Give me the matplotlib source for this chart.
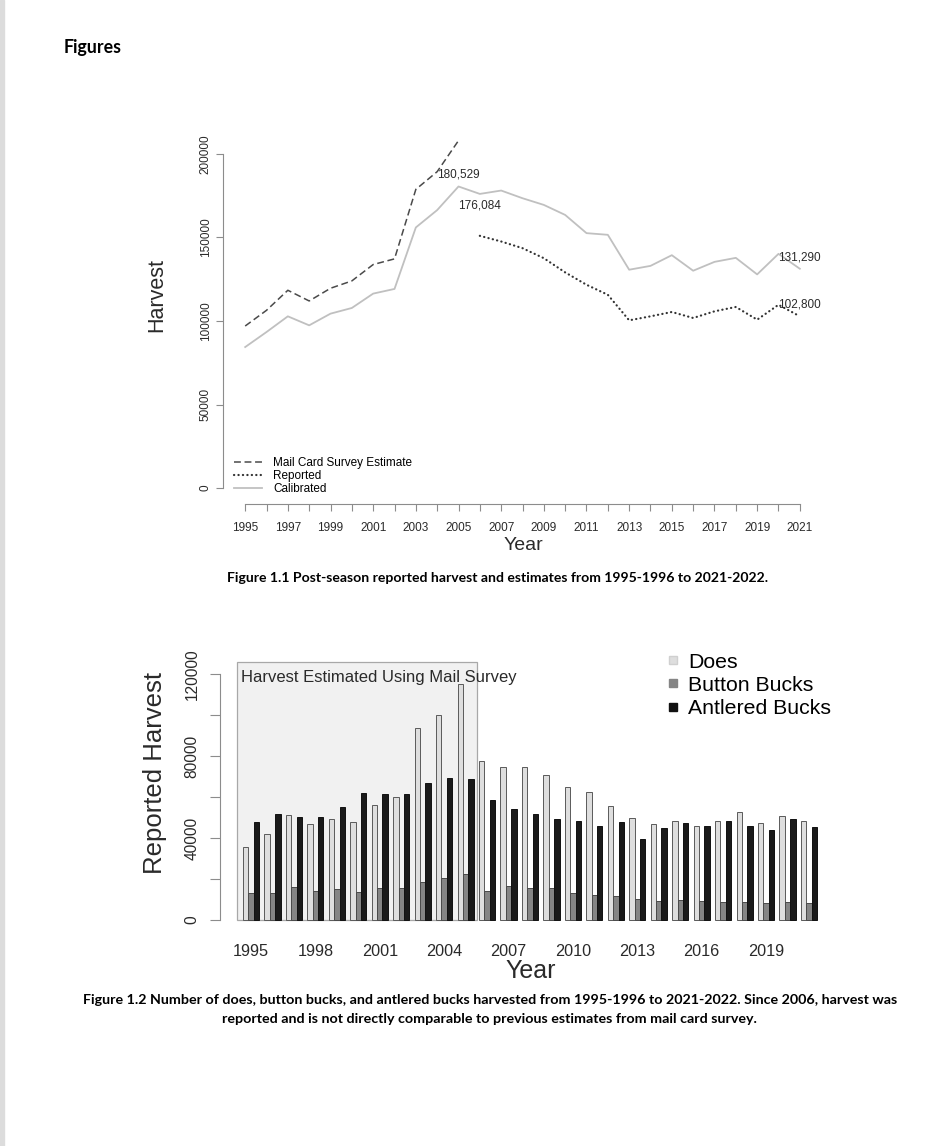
import numpy as np
import matplotlib.pyplot as plt
from matplotlib.lines import Line2D
from matplotlib.patches import Rectangle

plt.rcParams['font.family'] = ['Liberation Sans', 'DejaVu Sans']

# Figure 1.1 data
years = np.arange(1995, 2022)
mail_years = np.arange(1995, 2006)
mail_est = [97000, 106400, 118400, 112000, 119600, 124000, 133800, 137200,
            178800, 189400, 208000]
rep_years = np.arange(2006, 2022)
reported = [151000, 147600, 143600, 137600, 129100, 121700, 115700, 100400,
            102800, 105400, 101800, 105800, 108400, 100800, 109700, 102800]
calibrated = [84400, 93400, 102800, 97400, 104400, 107800, 116400, 119200,
              156000, 166400, 180529, 176084, 178100, 173500, 169500, 163500,
              152600, 151600, 130700, 133000, 139400, 130100, 135400, 137800,
              127900, 140200, 131290]

# Figure 1.2 data
does = [35800, 41800, 51300, 47000, 49500, 47700, 56200, 60100, 93600, 100100,
        115300, 77500, 74900, 74600, 71000, 65100, 62500, 55700, 49700, 47000,
        48200, 46100, 48300, 52600, 47500, 50900, 48500]
button = [13300, 13000, 16000, 14300, 15000, 13500, 15800, 15500, 18700, 20300,
          22500, 14200, 16600, 15600, 15500, 13000, 12200, 11900, 10100, 9400,
          9800, 9100, 8600, 8900, 8300, 8600, 8300]
antlered = [47700, 51800, 50500, 50500, 55000, 62200, 61500, 61700, 66800,
            69300, 68900, 58500, 54000, 51600, 49300, 48500, 46100, 47700,
            39400, 44900, 47200, 45900, 48300, 46100, 44000, 49500, 45600]
survey_span = (1995, 2005)

W, H = 948, 1146
fig = plt.figure(figsize=(W / 100, H / 100), dpi=100)
fig.patches.append(Rectangle((0, 0), 4 / W, 1, transform=fig.transFigure,
                             color='#dcdcdc', zorder=0))

axis_col = '#8c8c8c'
txt_col = '#2a2a2a'

# ---------- Figure 1.1 ----------
ax1 = fig.add_axes([223 / W, 1 - 501.4 / H, 599 / W, 360.8 / H])
ax1.plot(mail_years, mail_est, color='#4a4a4a', lw=1.1, dashes=(4.5, 2.4),
         label='Mail Card Survey Estimate')
ax1.plot(rep_years, reported, color='#333333', lw=1.6, dashes=(0.1, 1.9),
         dash_capstyle='round', label='Reported')
ax1.plot(years, calibrated, color='#c0c0c0', lw=1.3, label='Calibrated')

cal = dict(zip(years, calibrated))
rep = dict(zip(rep_years, reported))
for yr, val, off in [(2005, cal[2005], 8.3), (2006, cal[2006], -8.3),
                     (2021, cal[2021], 8.3), (2021, rep[2021], 8.3)]:
    ax1.annotate(f'{val:,}', (yr, val), xytext=(0, off), textcoords='offset points',
                 ha='center', va='center', fontsize=8.5, color=txt_col)

ax1.set_xlim(1993.96, 2022.04)
ax1.set_ylim(-8000, 208000)
for s in ['top', 'right']:
    ax1.spines[s].set_visible(False)
ax1.spines['left'].set_bounds(0, 200000)
ax1.spines['bottom'].set_bounds(1995, 2021)
ax1.spines['bottom'].set_position(('outward', 2))
for s in ['left', 'bottom']:
    ax1.spines[s].set_color(axis_col)
ax1.set_xticks(years)
ax1.set_xticklabels([str(y) if y % 2 == 1 else '' for y in years])
ax1.set_yticks(np.arange(0, 200001, 50000))
ax1.set_yticklabels([str(v) for v in range(0, 200001, 50000)])
ax1.tick_params(axis='both', length=5, color=axis_col, labelsize=8.5,
                labelcolor=txt_col)
ax1.tick_params(axis='x', pad=7.5)
ax1.tick_params(axis='y', pad=3, labelrotation=90)
for lab in ax1.get_yticklabels():
    lab.set_va('center')
ax1.legend(loc='upper left', bbox_to_anchor=(234 / W, 1 - 457 / H),
           bbox_transform=fig.transFigure, frameon=False, fontsize=8.5,
           handlelength=2.37, handletextpad=0.93, borderpad=0, labelspacing=0.1,
           borderaxespad=0)
fig.text(157 / W, 1 - 295 / H, 'Harvest', rotation=90, ha='center', va='center',
         fontsize=15.5, color=txt_col)
fig.text(523 / W, 1 - 545 / H, 'Year', ha='center', va='center', fontsize=14,
         color=txt_col)

# ---------- Figure 1.2 ----------
ax2 = fig.add_axes([220 / W, 1 - 930.6 / H, 620 / W, 287.6 / H])
bw = 0.25
x = np.array(years, dtype=float)
ax2.add_patch(Rectangle((survey_span[0] - 0.67, 0),
                        survey_span[1] - survey_span[0] + 1.2, 126000,
                        facecolor='#f1f1f1', edgecolor='#a8a8a8', lw=0.9, zorder=1))
ax2.text(survey_span[0] - 0.45, 118200, 'Harvest Estimated Using Mail Survey',
         ha='left', va='center', fontsize=12, color=txt_col, zorder=3)
ax2.bar(x - bw, does, width=bw, color='#dedede', edgecolor='#5a5a5a', lw=0.7,
        zorder=2, label='Does')
ax2.bar(x, button, width=bw, color='#858585', edgecolor='#4a4a4a', lw=0.7,
        zorder=2, label='Button Bucks')
ax2.bar(x + bw, antlered, width=bw, color='#1a1a1a', edgecolor='#111111', lw=0.7,
        zorder=2, label='Antlered Bucks')

ax2.set_xlim(1993.555, 2022.445)
ax2.set_ylim(-5200, 135200)
for s in ['top', 'right', 'bottom']:
    ax2.spines[s].set_visible(False)
ax2.spines['left'].set_bounds(0, 120000)
ax2.spines['left'].set_color(axis_col)
ax2.set_yticks(np.arange(0, 120001, 20000))
ax2.set_yticklabels([str(v) if v % 40000 == 0 else '' for v in range(0, 120001, 20000)])
ax2.tick_params(axis='y', length=7, color=axis_col, labelsize=11.2,
                labelcolor=txt_col, pad=7.5, labelrotation=90)
for lab in ax2.get_yticklabels():
    lab.set_va('center')
ax2.set_xticks(x[::3])
ax2.set_xticklabels([str(y) for y in years[::3]])
ax2.tick_params(axis='x', length=0, labelsize=11.7, labelcolor=txt_col, pad=9.5)

handles = [Line2D([], [], marker='s', ls='none', markersize=6, mfc='#dedede', mec='#d0d0d0'),
           Line2D([], [], marker='s', ls='none', markersize=6, mfc='#858585', mec='#858585'),
           Line2D([], [], marker='s', ls='none', markersize=6, mfc='#111111', mec='#111111')]
ax2.legend(handles, ['Does', 'Button Bucks', 'Antlered Bucks'], loc='upper left',
           bbox_to_anchor=(667 / W, 1 - 652.5 / H), bbox_transform=fig.transFigure,
           frameon=False, fontsize=15.3, handlelength=0.6, handletextpad=0.4,
           borderpad=0, labelspacing=0.2, borderaxespad=0)
fig.text(155 / W, 1 - 773 / H, 'Reported Harvest', rotation=90, ha='center',
         va='center', fontsize=18.5, color=txt_col)
fig.text(531 / W, 1 - 971 / H, 'Year', ha='center', va='center', fontsize=18,
         color=txt_col)

# ---------- page text ----------
cap = dict(family=['Lato', 'DejaVu Sans'], weight='bold', color='black')
fig.text(64 / W, 1 - 48 / H, 'Figures', ha='left', va='center', fontsize=12.8, **cap)
fig.text(498 / W, 1 - 578 / H,
         'Figure 1.1 Post-season reported harvest and estimates from 1995-1996 to 2021-2022.',
         ha='center', va='center', fontsize=10.1, **cap)
fig.text(490 / W, 1 - 1000 / H,
         'Figure 1.2 Number of does, button bucks, and antlered bucks harvested from '
         '1995-1996 to 2021-2022. Since 2006, harvest was',
         ha='center', va='center', fontsize=10.3, **cap)
fig.text(489 / W, 1 - 1019 / H,
         'reported and is not directly comparable to previous estimates from mail card survey.',
         ha='center', va='center', fontsize=10.3, **cap)

fig.savefig('out.png', dpi=100)
